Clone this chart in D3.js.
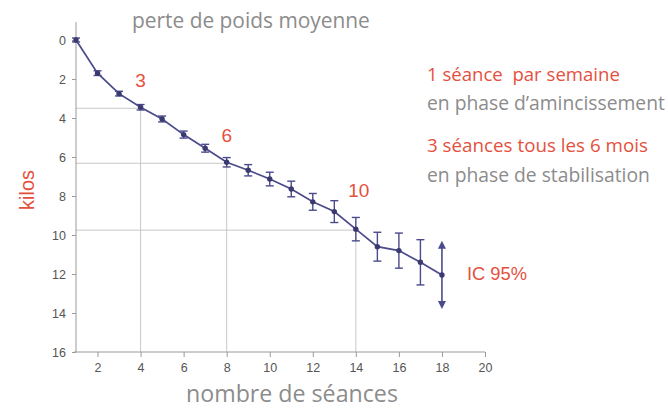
<!doctype html>
<html>
  <head>
    <script src="https://cdnjs.cloudflare.com/ajax/libs/d3/7.8.5/d3.min.js"></script>
    <style>
      body { margin: 0; background: #fff; }
      text { font-family: "Liberation Sans", Arial, sans-serif; }
      .hum { font-family: "Open Sans", "DejaVu Sans", sans-serif; }
    </style>
  </head>
  <body>
    <svg id="chart" width="668" height="409"></svg>
    <script>
      // seances
      var sessions = [1, 2, 3, 4, 5, 6, 7, 8, 9, 10, 11, 12, 13, 14, 15, 16, 17, 18];
      // perte de poids moyenne (kg)
      var meanLoss = [0, 1.7, 2.75, 3.45, 4.05, 4.85, 5.55, 6.27, 6.68, 7.13, 7.64, 8.3, 8.8, 9.7, 10.6, 10.8, 11.4, 12.05];
      // demi-intervalle IC 95%
      var ciHalf = [0.1, 0.12, 0.12, 0.14, 0.15, 0.18, 0.2, 0.24, 0.29, 0.35, 0.4, 0.43, 0.56, 0.6, 0.74, 0.9, 1.16, 1.75];
      var yTicks = [0, 2, 4, 6, 8, 10, 12, 14, 16];
      var xTicks = [2, 4, 6, 8, 10, 12, 14, 16, 18, 20];
      // repères
      var marks = [
        {x: 4, label: "3"},
        {x: 8, label: "6"},
        {x: 14, label: "10"}
      ];

      var data = sessions.map((s, i) => ({x: s, y: meanLoss[i], e: ciHalf[i]}));

      var svg = d3.select("#chart");
      var x = d3.scaleLinear().domain([1, 20]).range([76, 485]);
      var y = d3.scaleLinear().domain([0, 16]).range([40, 352]);

      var navy = "#4a4a8c";
      var red = "#e5503e";
      var grey = "#8c8c8c";

      // shrink or grow a text so it spans the wanted width
      function fit(t, w) {
        var fs = parseFloat(t.style("font-size"));
        var cur = t.node().getComputedTextLength();
        t.style("font-size", (fs * w / cur).toFixed(2) + "px");
        return t;
      }

      // guide lines
      marks.forEach(m => {
        var d = data.find(p => p.x === m.x);
        svg.append("line")
          .attr("x1", x(1)).attr("x2", x(m.x))
          .attr("y1", y(d.y) + 1).attr("y2", y(d.y) + 1)
          .attr("stroke", "#c8c8c8").attr("stroke-width", 1);
        svg.append("line")
          .attr("x1", x(m.x)).attr("x2", x(m.x))
          .attr("y1", y(d.y) + 1).attr("y2", y(16))
          .attr("stroke", "#c8c8c8").attr("stroke-width", 1);
      });

      // axes
      var yAxis = d3.axisLeft(y).tickValues(yTicks).tickSize(4).tickPadding(6);
      var gy = svg.append("g").attr("transform", "translate(76,0)").call(yAxis);
      gy.select(".domain").remove();
      svg.append("line").attr("x1", 76).attr("x2", 76).attr("y1", 22).attr("y2", 352)
        .attr("stroke", "#9a9a9a");

      var xAxis = d3.axisBottom(x).tickValues(xTicks).tickSize(5).tickPadding(6);
      var gx = svg.append("g").attr("transform", "translate(0,352)").call(xAxis);
      gx.select(".domain").remove();
      svg.append("line").attr("x1", 74).attr("x2", 485).attr("y1", 352).attr("y2", 352)
        .attr("stroke", "#9a9a9a");

      svg.selectAll(".tick line").attr("stroke", "#9a9a9a");
      svg.selectAll(".tick text").attr("fill", "#555").style("font-size", "12.5px")
        .style("font-family", "'Liberation Sans', Arial, sans-serif");

      // error bars (last one drawn as arrow)
      var normal = data.slice(0, data.length - 1);
      var last = data[data.length - 1];

      var eb = svg.append("g").attr("stroke", navy).attr("stroke-width", 1.4);
      eb.selectAll(".v").data(normal).enter().append("line")
        .attr("x1", d => x(d.x)).attr("x2", d => x(d.x))
        .attr("y1", d => y(d.y - d.e)).attr("y2", d => y(d.y + d.e));
      eb.selectAll(".t").data(normal).enter().append("line")
        .attr("x1", d => x(d.x) - 4).attr("x2", d => x(d.x) + 4)
        .attr("y1", d => y(d.y - d.e)).attr("y2", d => y(d.y - d.e));
      eb.selectAll(".b").data(normal).enter().append("line")
        .attr("x1", d => x(d.x) - 4).attr("x2", d => x(d.x) + 4)
        .attr("y1", d => y(d.y + d.e)).attr("y2", d => y(d.y + d.e));

      var ax = x(last.x), aTop = y(last.y - last.e), aBot = y(last.y + last.e);
      svg.append("line").attr("x1", ax).attr("x2", ax)
        .attr("y1", aTop + 6).attr("y2", aBot - 6)
        .attr("stroke", navy).attr("stroke-width", 1.6);
      svg.append("path")
        .attr("d", `M${ax},${aTop} L${ax - 4},${aTop + 8} L${ax + 4},${aTop + 8} Z`)
        .attr("fill", navy);
      svg.append("path")
        .attr("d", `M${ax},${aBot} L${ax - 4},${aBot - 8} L${ax + 4},${aBot - 8} Z`)
        .attr("fill", navy);

      // mean line
      svg.append("path").datum(data)
        .attr("fill", "none").attr("stroke", navy).attr("stroke-width", 1.7)
        .attr("d", d3.line().x(d => x(d.x)).y(d => y(d.y)));
      svg.selectAll(".pt").data(data).enter().append("circle")
        .attr("cx", d => x(d.x)).attr("cy", d => y(d.y)).attr("r", 2.7)
        .attr("fill", "#3a3a70");

      // session labels
      var labelPos = [{dx: 0, y: 2.42}, {dx: 0, y: 5.23}, {dx: 3, y: 8.05}];
      marks.forEach((m, i) => {
        svg.append("text")
          .attr("x", x(m.x) + labelPos[i].dx).attr("y", y(labelPos[i].y))
          .attr("text-anchor", "middle").attr("fill", red)
          .style("font-size", "19px").text(m.label);
      });

      // titles
      fit(svg.append("text").attr("class", "hum")
        .attr("x", 132).attr("y", 28).attr("fill", grey)
        .style("font-size", "18px").text("perte de poids moyenne"), 238);

      svg.append("text")
        .attr("transform", "translate(34,190) rotate(-90)")
        .attr("text-anchor", "middle").attr("fill", red)
        .style("font-size", "20px").text("kilos");

      fit(svg.append("text").attr("class", "hum")
        .attr("x", 186).attr("y", 402).attr("fill", grey)
        .style("font-size", "20px").text("nombre de séances"), 212);

      // notes on the right
      var notes = [
        {t: "1 séance  par semaine", c: red, y: 81, w: 193},
        {t: "en phase d’amincissement", c: grey, y: 110, w: 238},
        {t: "3 séances tous les 6 mois", c: red, y: 152, w: 221},
        {t: "en phase de stabilisation", c: grey, y: 182, w: 223}
      ];
      notes.forEach(n => {
        fit(svg.append("text").attr("class", "hum")
          .attr("x", 427).attr("y", n.y).attr("fill", n.c)
          .style("font-size", "16px").style("white-space", "pre").text(n.t), n.w);
      });

      fit(svg.append("text")
        .attr("x", 467).attr("y", 280).attr("fill", red)
        .style("font-size", "17px").text("IC 95%"), 60);
    </script>
  </body>
</html>
